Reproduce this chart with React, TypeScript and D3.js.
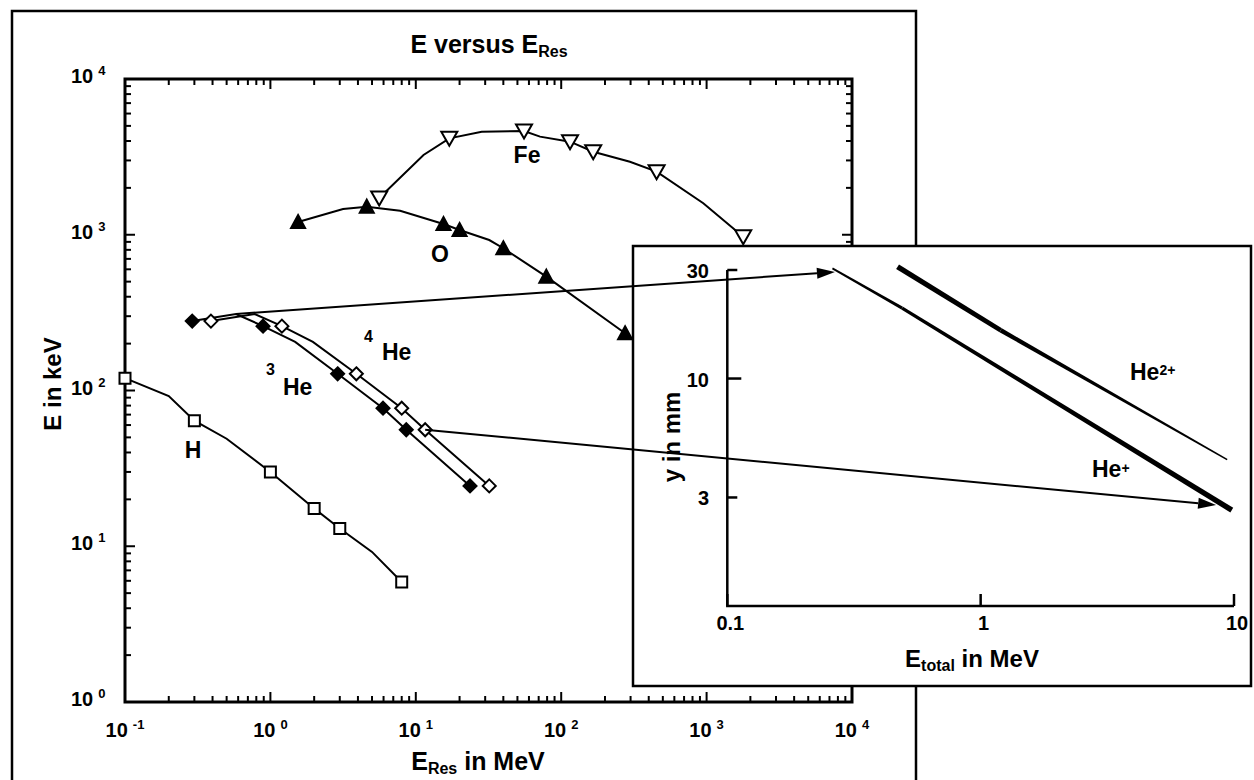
import React, { useRef, useEffect } from "react";
import * as d3 from "d3";

// E_Res in MeV / E in keV
const hE = [0.1, 0.2, 0.3, 0.5, 1, 2, 3, 5, 8];
const hKeV = [120, 92, 64, 49, 30, 17.5, 13, 9.2, 5.9];
const hMarked = [1, 0, 1, 0, 1, 1, 1, 0, 1];

const he3E = [0.29, 0.58, 0.89, 1.48, 2.9, 5.95, 8.6, 23.6];
const he3KeV = [279, 310, 259, 205, 128, 77, 56, 24.4];
const he3Marked = [1, 0, 1, 0, 1, 1, 1, 1];

const he4E = [0.39, 0.78, 1.2, 1.96, 3.9, 8, 11.6, 32];
const he4KeV = [279, 310, 259, 205, 128, 77, 56, 24.4];
const he4Marked = [1, 0, 1, 0, 1, 1, 1, 1];

const oE = [1.55, 3.16, 4.6, 7.8, 15.5, 20, 32, 40, 79, 275];
const oKeV = [1207, 1462, 1514, 1427, 1172, 1072, 925, 819, 538, 233];
const oMarked = [1, 0, 1, 0, 1, 1, 0, 1, 1, 1];

const feE = [5.6, 11.3, 17, 28.4, 55.5, 71.5, 115, 166, 297, 453, 949, 1786];
const feKeV = [1722, 3250, 4160, 4590, 4637, 4265, 3958, 3413, 2945, 2541, 1592, 972];
const feMarked = [1, 0, 1, 0, 1, 0, 1, 1, 0, 1, 0, 1];

// inset: E_total in MeV / y in mm
const he2pE = [0.47, 1.2, 9.4];
const he2pY = [31, 16.3, 4.4];
const he2pWidth = [5.5, 4.5, 1.6];

const he1pE = [0.26, 0.49, 9.8];
const he1pY = [30.5, 20.4, 2.64];
const he1pWidth = [1.8, 3.2, 5.5];

const insetXTicks = [0.1, 1, 10];
const insetYTicks = [3, 10, 30];

// arrows from the main plot into the inset
const arrowFromE = [0.58, 11.6];
const arrowFromKeV = [310, 56];
const arrowToE = [0.266, 8.5];
const arrowToY = [29.4, 2.78];

const zip = (xs, ys, m) => xs.map((v, i) => ({ x: v, y: ys[i], m: m ? m[i] : 1 }));

const App = () => {

	const chartRef = useRef(null);

	useEffect(() => {

		const svg = d3.select(chartRef.current);
		svg.selectAll("*").remove();
		svg
			.attr("font-family", "'Liberation Sans', Arial, Helvetica, sans-serif")
			.attr("font-weight", "bold");

		const x = d3.scaleLog().domain([0.1, 1e4]).range([125, 852]);
		const y = d3.scaleLog().domain([1, 1e4]).range([702, 79]);
		const [x0, x1] = x.range();
		const [y0, y1] = y.range();

		const isMajor = v => Math.abs(Math.log10(v) - Math.round(Math.log10(v))) < 1e-6;

		// outer frame
		svg.append("path")
			.attr("d", `M12,790 V11 H916 V790`)
			.attr("fill", "none")
			.attr("stroke", "#000")
			.attr("stroke-width", 2.5);

		// title
		const title = svg.append("text")
			.attr("x", 489).attr("y", 53)
			.attr("text-anchor", "middle")
			.attr("font-size", 25);
		title.append("tspan").text("E versus E");
		title.append("tspan").attr("font-size", 16).attr("dy", 4).text("Res");

		// plot box
		svg.append("rect")
			.attr("x", x0).attr("y", y1)
			.attr("width", x1 - x0).attr("height", y0 - y1)
			.attr("fill", "none")
			.attr("stroke", "#000")
			.attr("stroke-width", 3);

		const ticks = svg.append("g").attr("stroke", "#000").attr("stroke-width", 2);
		x.ticks().forEach(v => {
			const len = isMajor(v) ? 10 : 6;
			ticks.append("line").attr("x1", x(v)).attr("x2", x(v)).attr("y1", y0).attr("y2", y0 - len);
			ticks.append("line").attr("x1", x(v)).attr("x2", x(v)).attr("y1", y1).attr("y2", y1 + len);
		});
		y.ticks().forEach(v => {
			const len = isMajor(v) ? 10 : 6;
			ticks.append("line").attr("y1", y(v)).attr("y2", y(v)).attr("x1", x0).attr("x2", x0 + len);
			ticks.append("line").attr("y1", y(v)).attr("y2", y(v)).attr("x1", x1).attr("x2", x1 - len);
		});

		// tick labels
		x.ticks().filter(isMajor).forEach(v => {
			const t = svg.append("text")
				.attr("x", x(v)).attr("y", 737)
				.attr("text-anchor", "middle")
				.attr("font-size", 20);
			t.append("tspan").text("10");
			t.append("tspan").attr("dx", 5).attr("dy", -8).attr("font-size", 13).text(Math.round(Math.log10(v)));
		});
		y.ticks().filter(isMajor).forEach(v => {
			const t = svg.append("text")
				.attr("x", 71).attr("y", y(v) + 4)
				.attr("font-size", 20);
			t.append("tspan").text("10");
			t.append("tspan").attr("dx", 5).attr("dy", -8).attr("font-size", 13).text(Math.round(Math.log10(v)));
		});

		// axis titles
		svg.append("text")
			.attr("transform", "translate(61,384) rotate(-90)")
			.attr("text-anchor", "middle")
			.attr("font-size", 24)
			.text("E in keV");
		const xt = svg.append("text")
			.attr("x", 478).attr("y", 770)
			.attr("text-anchor", "middle")
			.attr("font-size", 25);
		xt.append("tspan").text("E");
		xt.append("tspan").attr("font-size", 16).attr("dy", 4).text("Res");
		xt.append("tspan").attr("dy", -4).text(" in MeV");

		// series
		const line = d3.line().x(d => x(d.x)).y(d => y(d.y));

		const square = (cx, cy) => `M${cx - 5.5},${cy - 5.5}h11v11h-11z`;
		const diamond = (cx, cy) => `M${cx},${cy - 6.5}L${cx + 6.5},${cy}L${cx},${cy + 6.5}L${cx - 6.5},${cy}Z`;
		const triUp = (cx, cy) => `M${cx},${cy - 7}L${cx + 7},${cy + 6}L${cx - 7},${cy + 6}Z`;
		const triDown = (cx, cy) => `M${cx - 8},${cy - 6.5}L${cx + 8},${cy - 6.5}L${cx},${cy + 7.5}Z`;

		const series = [
			{ data: zip(hE, hKeV, hMarked), shape: square, fill: "#fff" },
			{ data: zip(he3E, he3KeV, he3Marked), shape: diamond, fill: "#000" },
			{ data: zip(he4E, he4KeV, he4Marked), shape: diamond, fill: "#fff" },
			{ data: zip(oE, oKeV, oMarked), shape: triUp, fill: "#000" },
			{ data: zip(feE, feKeV, feMarked), shape: triDown, fill: "#fff" },
		];

		series.forEach(s => {
			svg.append("path")
				.attr("d", line(s.data))
				.attr("fill", "none")
				.attr("stroke", "#000")
				.attr("stroke-width", 2);
			svg.selectAll(null)
				.data(s.data.filter(d => d.m))
				.enter()
				.append("path")
				.attr("d", d => s.shape(x(d.x), y(d.y)))
				.attr("fill", s.fill)
				.attr("stroke", "#000")
				.attr("stroke-width", 2)
				.attr("stroke-linejoin", "miter");
		});

		// series labels
		const label = (lx, ly, txt, size, anchor) => svg.append("text")
			.attr("x", lx).attr("y", ly)
			.attr("text-anchor", anchor || "middle")
			.attr("font-size", size)
			.text(txt);
		label(193, 458, "H", 23);
		label(440, 262, "O", 23);
		label(527, 163, "Fe", 23);
		label(266, 375, "3", 16, "start");
		label(283, 395, "He", 23, "start");
		label(364, 342, "4", 16, "start");
		label(382, 360, "He", 23, "start");

		// inset
		const ix = d3.scaleLog().domain([0.1, 10]).range([727.3, 1234]);
		const iy = d3.scaleLog().domain([1, 30]).range([606, 270]);

		svg.append("rect")
			.attr("x", 633).attr("y", 246)
			.attr("width", 618).attr("height", 440)
			.attr("fill", "#fff")
			.attr("stroke", "#000")
			.attr("stroke-width", 2.5);

		svg.append("path")
			.attr("d", `M${ix(0.1)},${iy(30)} V${iy(1)} H${ix(10)}`)
			.attr("fill", "none")
			.attr("stroke", "#000")
			.attr("stroke-width", 2.5);

		insetYTicks.forEach(v => {
			svg.append("line")
				.attr("x1", ix(0.1)).attr("x2", ix(0.1) + (v === 10 ? 14 : 10))
				.attr("y1", iy(v)).attr("y2", iy(v))
				.attr("stroke", "#000").attr("stroke-width", 2.5);
			label(709, iy(v) + 8, String(v), 20, "end");
		});
		insetXTicks.forEach(v => {
			svg.append("line")
				.attr("x1", ix(v)).attr("x2", ix(v))
				.attr("y1", iy(1)).attr("y2", iy(1) - 12)
				.attr("stroke", "#000").attr("stroke-width", 2.5);
			label(ix(v) + 3, 630, String(v), 20);
		});

		svg.append("text")
			.attr("transform", "translate(680,437) rotate(-90)")
			.attr("text-anchor", "middle")
			.attr("font-size", 24)
			.text("y in mm");
		const it = svg.append("text")
			.attr("x", 972).attr("y", 667)
			.attr("text-anchor", "middle")
			.attr("font-size", 24);
		it.append("tspan").text("E");
		it.append("tspan").attr("font-size", 16).attr("dy", 4).text("total");
		it.append("tspan").attr("dy", -4).text(" in MeV");

		// tapered lines for He+ and He2+
		const taper = (xs, ys, ws) => {
			for (let i = 0; i < xs.length - 1; i++) {
				const ax = ix(xs[i]), ay = iy(ys[i]);
				const bx = ix(xs[i + 1]), by = iy(ys[i + 1]);
				const len = Math.hypot(bx - ax, by - ay);
				const nx = -(by - ay) / len, ny = (bx - ax) / len;
				const wa = ws[i] / 2, wb = ws[i + 1] / 2;
				svg.append("path")
					.attr("d", `M${ax + nx * wa},${ay + ny * wa}L${bx + nx * wb},${by + ny * wb}L${bx - nx * wb},${by - ny * wb}L${ax - nx * wa},${ay - ny * wa}Z`)
					.attr("fill", "#000");
			}
		};
		taper(he2pE, he2pY, he2pWidth);
		taper(he1pE, he1pY, he1pWidth);

		const ion = (lx, ly, sup, dy) => {
			const t = svg.append("text").attr("x", lx).attr("y", ly).attr("font-size", 23);
			t.append("tspan").text("He");
			t.append("tspan").attr("font-size", 14).attr("dy", dy).text(sup);
		};
		ion(1130, 380, "2+", -5);
		ion(1092, 477, "+", -4);

		// arrows
		arrowFromE.forEach((e, i) => {
			const ax = x(e), ay = y(arrowFromKeV[i]);
			const bx = ix(arrowToE[i]), by = iy(arrowToY[i]);
			const len = Math.hypot(bx - ax, by - ay);
			const ux = (bx - ax) / len, uy = (by - ay) / len;
			const hl = 18, hw = 5.5;
			const cx = bx - ux * hl, cy = by - uy * hl;
			svg.append("line")
				.attr("x1", ax).attr("y1", ay).attr("x2", cx).attr("y2", cy)
				.attr("stroke", "#000").attr("stroke-width", 2);
			svg.append("path")
				.attr("d", `M${bx},${by}L${cx - uy * hw},${cy + ux * hw}L${cx + uy * hw},${cy - ux * hw}Z`)
				.attr("fill", "#000");
		});

	}, []);

	return (
		<div style={{ position: "absolute", left: 0, top: 0, width: 1254, height: 780, overflow: "hidden", background: "#fff" }}>
			<svg ref={chartRef} width={1254} height={780} style={{ display: "block" }}></svg>
		</div>
	);
};

export default App;
